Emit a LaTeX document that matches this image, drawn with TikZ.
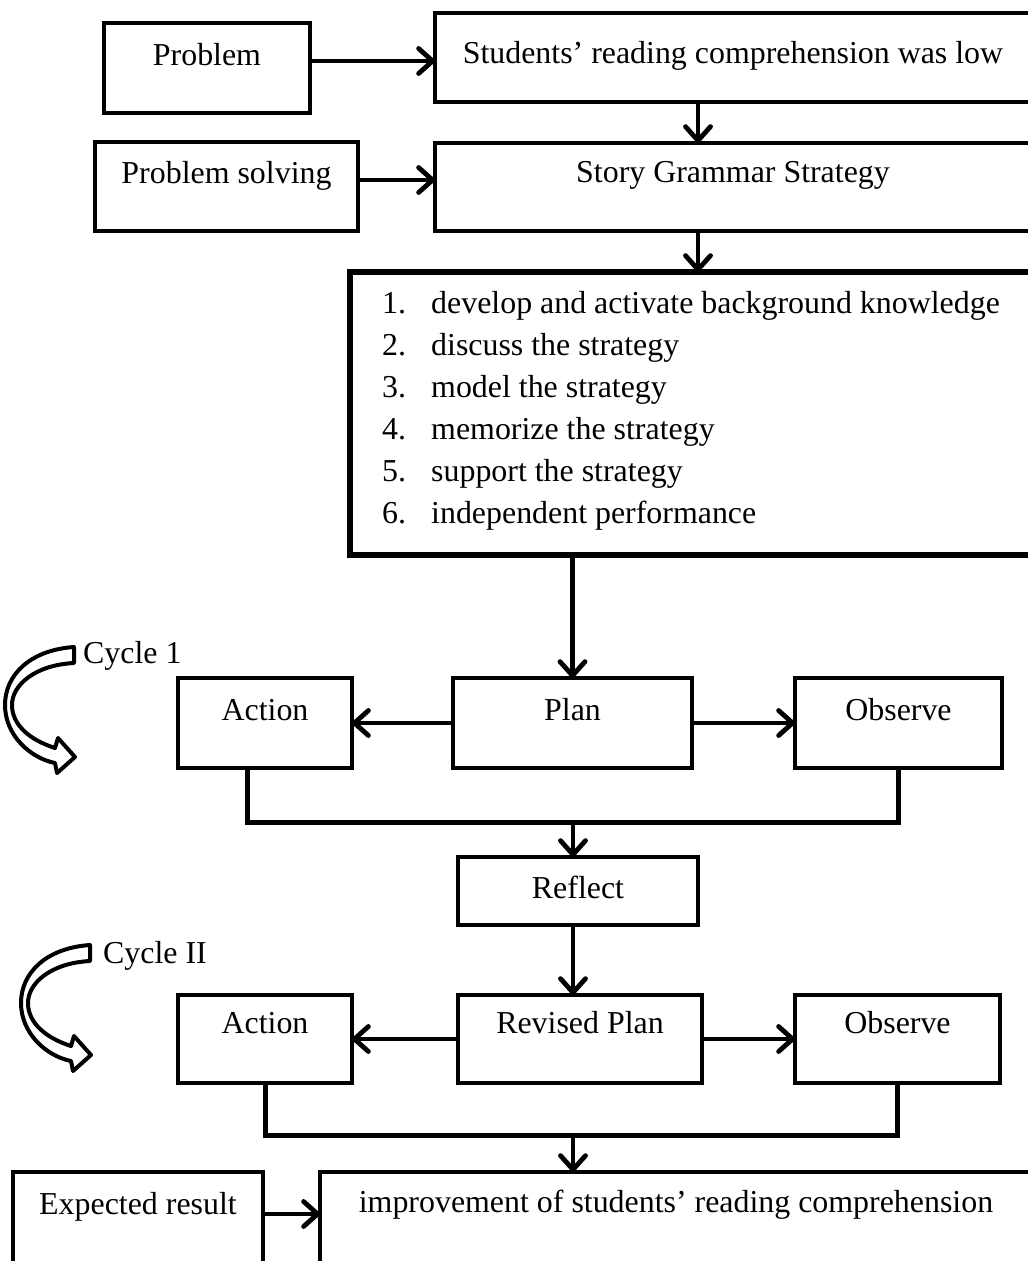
\documentclass[tikz,border=0pt]{standalone}
\usepackage{fontspec}
\setmainfont{Liberation Serif}
\usetikzlibrary{arrows.meta}
\newcommand\bigfont{\fontsize{31.9pt}{42pt}\selectfont}
\def\cyclearrow{.. controls (-44,3) and (-69,28) .. (-69,58) .. controls (-69,88) and (-44,111) .. (-19,116) -- (-17,126) -- (1,110) -- (-16,91) -- (-19,101) .. controls (-44,93) and (-62,78) .. (-62,58) .. controls (-62,38) and (-39,18) .. (0,16) -- cycle}
\def\arr{\draw[arr]}
\tikzset{
  box/.style={draw, line width=3.5pt, inner sep=0pt, outer sep=0pt, align=flush center, anchor=north west},
  lbl/.style={anchor=base west, inner sep=0pt},
  arr/.style={line width=4.8pt, -{Straight Barb[length=14pt,width=25pt,round]}},
  link/.style={line width=5pt},
  cyc/.style={draw, fill=white, line width=4pt, line join=round},
}

\begin{document}
\begin{tikzpicture}[x=1pt, y=-1pt, font=\bigfont]
    \useasboundingbox (0,0) rectangle (1028,1261);
    \clip (0,0) rectangle (1028,1261);
    % top part
    \node[box, text width=206pt, text height=42pt, text depth=48pt] (prob) at (104,23) {Problem};
    \node[box, text width=596pt, text height=50pt, text depth=39pt] (stud) at (435,13) {Students' reading comprehension was low};
    \node[box, text width=263pt, text height=41pt, text depth=48pt] (ps) at (95,142) {Problem solving};
    \node[box, text width=596pt, text height=39pt, text depth=49pt] (story) at (435,143) {Story Grammar Strategy};
    \node[box, line width=6.5pt, minimum width=690pt, minimum height=283pt] (list) at (350,272) {};
    \foreach \n/\t in {1/develop and activate background knowledge, 2/discuss the strategy,
        3/model the strategy, 4/memorize the strategy, 5/support the strategy, 6/independent performance}{
        \node[lbl] (num\n) at (382,271+42*\n) {\n.};
        \node[lbl] (item\n) at (431,271+42*\n) {\t};
    }
    \arr ([yshift=7pt]prob.east) -- ([yshift=7pt]prob.east -| stud.west);
    \arr ([yshift=6.5pt]ps.east) -- ([yshift=6.5pt]ps.east -| story.west);
    \arr ([xshift=-35pt]stud.south) -- ([xshift=-35pt]story.north);
    \arr ([xshift=-35pt]story.south) -- ([xshift=-35pt]story.south |- list.north);
    % cycle 1
    \node[box, text width=174pt, text height=42pt, text depth=48pt] (act1) at (178,678) {Action};
    \node[box, text width=239pt, text height=42pt, text depth=48pt] (plan) at (453,678) {Plan};
    \node[box, text width=207pt, text height=42pt, text depth=48pt] (obs1) at (795,678) {Observe};
    \node[box, text width=240pt, text height=41pt, text depth=27pt] (refl) at (458,857) {Reflect};
    \draw[cyc, shift={(74,647)}] (0,0) \cyclearrow;
    \node[lbl] (cyc1) at (83,663) {Cycle 1};
    \arr (plan.north |- list.south) -- (plan.north);
    \arr (plan.west) -- (act1.east);
    \arr (plan.east) -- (obs1.west);
    \coordinate (j1) at (573,822);
    \draw[link] ([xshift=-18pt]act1.south) |- (j1) -| (obs1.south);
    \arr (j1) -- (j1 |- refl.north);
    % cycle 2
    \node[box, text width=174pt, text height=38pt, text depth=50pt] (act2) at (178,995) {Action};
    \node[box, text width=244pt, text height=38pt, text depth=50pt] (rplan) at (458,995) {Revised Plan};
    \node[box, text width=205pt, text height=38pt, text depth=50pt] (obs2) at (795,995) {Observe};
    \draw[cyc, shift={(90,945)}] (0,0) \cyclearrow;
    \node[lbl] (cyc2) at (103,963) {Cycle II};
    \arr (j1 |- refl.south) -- (j1 |- rplan.north);
    \arr (rplan.west) -- (act2.east);
    \arr (rplan.east) -- (obs2.west);
    \coordinate (j2) at (573,1135);
    \draw[link] (act2.south) |- (j2) -| (obs2.south);
    % result
    \node[box, text width=250pt, text height=42pt, text depth=100pt] (exp) at (13,1172) {Expected result};
    \node[box, text width=712pt, text height=40pt, text depth=100pt] (impr) at (320,1172) {improvement of students' reading comprehension};
    \arr (j2) -- (j2 |- impr.north);
    \arr (exp.base east) -- (exp.base east -| impr.west);
\end{tikzpicture}
\end{document}
